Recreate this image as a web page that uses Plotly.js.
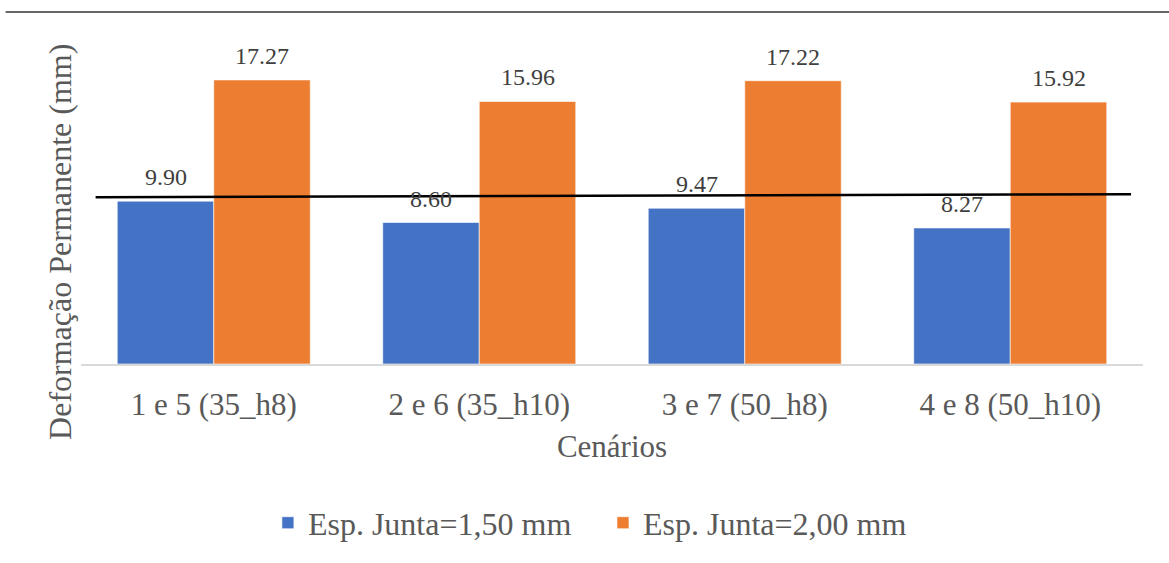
<!DOCTYPE html>
<html>
<head>
<meta charset="utf-8">
<script src="https://cdn.plot.ly/plotly-3.0.1.min.js"></script>
<style>html,body{margin:0;padding:0;background:#fff;}#chart{width:1169px;height:563px;}</style>
</head>
<body>
<div id="chart"></div>
<script>
const categories = ["1 e 5 (35_h8)", "2 e 6 (35_h10)", "3 e 7 (50_h8)", "4 e 8 (50_h10)"];
const catIndex = [0, 1, 2, 3];
const seriesNames = ["Esp. Junta=1,50 mm", "Esp. Junta=2,00 mm"];
const junta150 = [9.90, 8.60, 9.47, 8.27];
const junta200 = [17.27, 15.96, 17.22, 15.92];
const refLineX = [-0.445, 3.455];
const refLineY = [10.14, 10.32];
const yTitle = "Deformação Permanente (mm)";
const xTitle = "Cenários";

const FONT = "'Liberation Serif', 'Times New Roman', Times, serif";
const BARGAP = 0.273;
const barOffset = (1 - BARGAP) / 4;

const traces = [
  {
    type: "bar", name: seriesNames[0], x: catIndex, y: junta150, legend: "legend",
    marker: {color: "#4472C4", line: {color: "#ffffff", width: 0.6}}
  },
  {
    type: "bar", name: seriesNames[1], x: catIndex, y: junta200, legend: "legend2",
    marker: {color: "#ED7D31", line: {color: "#ffffff", width: 0.6}}
  },
  {
    type: "scatter", mode: "lines", x: refLineX, y: refLineY,
    line: {color: "#000000", width: 2.5}, showlegend: false, hoverinfo: "skip", cliponaxis: false
  }
];

function labels(values, dx) {
  return values.map((v, i) => ({
    text: v.toFixed(2), x: catIndex[i] + dx, y: v, xref: "x", yref: "y",
    xanchor: "center", yanchor: "middle", yshift: 24, showarrow: false,
    font: {family: FONT, size: 24, color: "#404040"}
  }));
}

const legendBase = {orientation: "h", xanchor: "left", y: -0.483, yanchor: "middle",
  font: {family: FONT, size: 32, color: "#595959"}, itemwidth: 30, bgcolor: "rgba(0,0,0,0)"};

const layout = {
  width: 1169, height: 563,
  margin: {l: 81, r: 26, t: 35, b: 199},
  paper_bgcolor: "#ffffff", plot_bgcolor: "#ffffff",
  font: {family: FONT, color: "#595959"},
  barmode: "group", bargap: BARGAP, bargroupgap: 0,
  showlegend: true,
  legend: Object.assign({}, legendBase, {x: 0.176}),
  legend2: Object.assign({}, legendBase, {x: 0.4915}),
  xaxis: {
    type: "linear", range: [-0.5, 3.5], tickmode: "array", tickvals: catIndex, ticktext: categories,
    showgrid: false, zeroline: false, showline: true, linecolor: "#D9D9D9", linewidth: 1.5,
    ticks: "", ticklabelstandoff: 12, tickfont: {family: FONT, size: 31, color: "#595959"},
    title: {text: xTitle, font: {family: FONT, size: 31, color: "#595959"}, standoff: 14}
  },
  yaxis: {
    range: [0, 20], showgrid: false, zeroline: false, showline: false, showticklabels: false, ticks: ""
  },
  annotations: [
    {text: yTitle, xref: "paper", yref: "paper", x: -0.0198, y: 0.371, xanchor: "center", yanchor: "middle",
     textangle: -90, showarrow: false, font: {family: FONT, size: 32, color: "#595959"}}
  ].concat(labels(junta150, -barOffset), labels(junta200, barOffset)),
  shapes: [
    {type: "line", xref: "paper", yref: "paper", x0: -0.071, x1: 1.03, y0: 1.07, y1: 1.07,
     line: {color: "#333333", width: 1.5}}
  ]
};

Plotly.newPlot("chart", traces, layout, {displayModeBar: false, staticPlot: true});
</script>
</body>
</html>
